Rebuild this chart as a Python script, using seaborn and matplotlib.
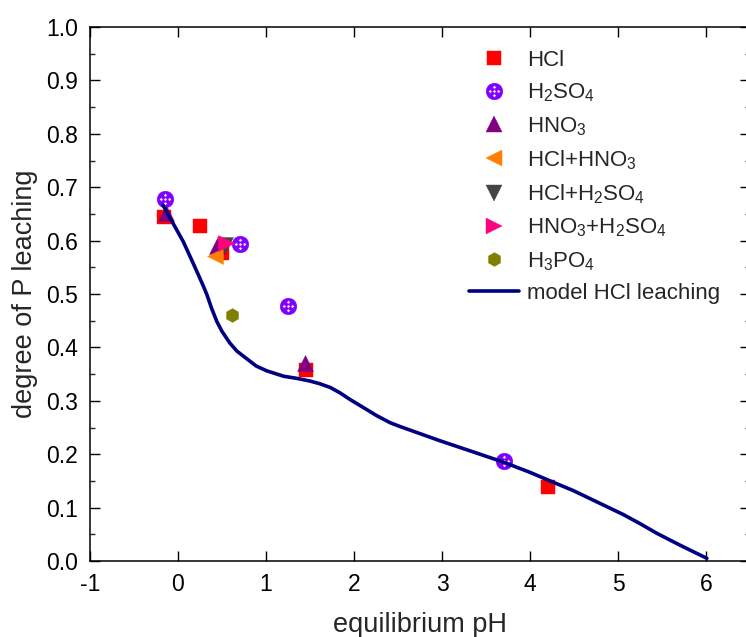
import numpy as np
import pandas as pd
import matplotlib
matplotlib.use("Agg")
import matplotlib.pyplot as plt
import seaborn as sns
from matplotlib.path import Path
from matplotlib.lines import Line2D
from matplotlib.ticker import MultipleLocator, FormatStrFormatter

# ---------------- data ----------------
series_order = ["HCl", "H2SO4", "HNO3", "HCl+HNO3", "HCl+H2SO4", "HNO3+H2SO4", "H3PO4"]
legend_labels = ["HCl", "H$_2$SO$_4$", "HNO$_3$", "HCl+HNO$_3$", "HCl+H$_2$SO$_4$",
                 "HNO$_3$+H$_2$SO$_4$", "H$_3$PO$_4$"]

hcl_pH = [-0.16, 0.25, 0.50, 1.46, 4.20]
hcl_P = [0.645, 0.627, 0.577, 0.358, 0.138]
h2so4_pH = [-0.15, 0.70, 1.25, 3.70]
h2so4_P = [0.678, 0.593, 0.478, 0.188]
hno3_pH = [-0.14, 0.44, 1.44]
hno3_P = [0.652, 0.590, 0.371]
hcl_hno3_pH = [0.42]
hcl_hno3_P = [0.571]
hcl_h2so4_pH = [0.53]
hcl_h2so4_P = [0.592]
hno3_h2so4_pH = [0.55]
hno3_h2so4_P = [0.596]
h3po4_pH = [0.61]
h3po4_P = [0.460]

model_pH = [-0.17, 0.06, 0.174, 0.25, 0.29, 0.33, 0.38, 0.44, 0.50, 0.59, 0.67, 0.74,
            0.89, 1.01, 1.20, 1.35, 1.50, 1.61, 1.73, 1.84, 1.95, 2.11, 2.26, 2.33,
            2.41, 2.52, 2.98, 3.36, 3.70, 4.00, 4.30, 4.49, 4.68, 4.87, 5.06, 5.25,
            5.44, 5.70, 6.01]
model_P = [0.666, 0.598, 0.557, 0.529, 0.514, 0.498, 0.474, 0.449, 0.430, 0.408, 0.393,
           0.384, 0.365, 0.356, 0.346, 0.342, 0.337, 0.332, 0.325, 0.315, 0.303, 0.287,
           0.272, 0.266, 0.259, 0.252, 0.225, 0.204, 0.185, 0.166, 0.145, 0.132, 0.117,
           0.102, 0.087, 0.070, 0.052, 0.030, 0.005]

x_ticks = [-1, 0, 1, 2, 3, 4, 5, 6]
y_ticks = [0.0, 0.1, 0.2, 0.3, 0.4, 0.5, 0.6, 0.7, 0.8, 0.9, 1.0]

# ---------------- styles ----------------
colors = {"HCl": "#ff0000", "H2SO4": "#8000ff", "HNO3": "#800080", "HCl+HNO3": "#ff8000",
          "HCl+H2SO4": "#454545", "HNO3+H2SO4": "#ff0080", "H3PO4": "#808000"}

def hatched_circle():
    outer = Path.unit_circle()
    holes = []
    r = 0.22
    for cx, cy in [(0, 0), (0.5, 0), (-0.5, 0), (0, 0.5), (0, -0.5)]:
        v = [(cx, cy + r), (cx + r, cy), (cx, cy - r), (cx - r, cy), (cx, cy + r)]
        holes.append(Path(v, [Path.MOVETO, Path.LINETO, Path.LINETO, Path.LINETO, Path.CLOSEPOLY]))
    return Path.make_compound_path(outer, *holes)

hatch_marker = hatched_circle()
markers = {"HCl": "s", "H2SO4": hatch_marker, "HNO3": "^", "HCl+HNO3": "<",
           "HCl+H2SO4": "v", "HNO3+H2SO4": ">", "H3PO4": "h"}
sizes = {"HCl": 10.5, "H2SO4": 12, "HNO3": 11.5, "HCl+HNO3": 11.5,
         "HCl+H2SO4": 11.5, "HNO3+H2SO4": 11.5, "H3PO4": 10}

rows = []
for name, xs, ys in [("HCl", hcl_pH, hcl_P), ("H2SO4", h2so4_pH, h2so4_P),
                     ("HNO3", hno3_pH, hno3_P), ("HCl+HNO3", hcl_hno3_pH, hcl_hno3_P),
                     ("HCl+H2SO4", hcl_h2so4_pH, hcl_h2so4_P),
                     ("HNO3+H2SO4", hno3_h2so4_pH, hno3_h2so4_P),
                     ("H3PO4", h3po4_pH, h3po4_P)]:
    for x, y in zip(xs, ys):
        rows.append({"pH": x, "P": y, "acid": name})
df = pd.DataFrame(rows)
model_df = pd.DataFrame({"pH": model_pH, "P": model_P})

sns.set_style("ticks")
plt.rcParams["font.family"] = ["Liberation Sans", "DejaVu Sans"]
plt.rcParams["mathtext.fontset"] = "custom"
plt.rcParams["mathtext.rm"] = "Liberation Sans"
plt.rcParams["mathtext.it"] = "Liberation Sans:italic"
plt.rcParams["mathtext.bf"] = "Liberation Sans:bold"

fig = plt.figure(figsize=(7.46, 6.37), dpi=100)
W, H = 746, 637
ax = fig.add_axes([90 / W, 76 / H, 660 / W, 534 / H])

for name in series_order:
    sub = df[df["acid"] == name]
    sns.scatterplot(data=sub, x="pH", y="P", ax=ax, marker=markers[name],
                    color=colors[name], s=sizes[name] ** 2, edgecolor=colors[name],
                    linewidth=0.3, legend=False, zorder=2)

sns.lineplot(data=model_df, x="pH", y="P", ax=ax, sort=False, color="#000080",
             linewidth=2.6, zorder=3, legend=False)

ax.set_xlim(-1, 6.5)
ax.set_ylim(0, 1.0)
ax.set_xticks(x_ticks)
ax.set_xticklabels([str(t) for t in x_ticks])
ax.set_yticks(y_ticks)
ax.yaxis.set_major_formatter(FormatStrFormatter("%.1f"))
ax.yaxis.set_minor_locator(MultipleLocator(0.05))
ax.tick_params(axis="both", which="major", direction="in", top=True, right=True,
               length=7.2, width=1.0, labelsize=16.5, pad=8.5, colors="black")
ax.tick_params(axis="y", which="minor", direction="in", left=True, right=True,
               length=3.6, width=1.0)
for sp in ax.spines.values():
    sp.set_linewidth(1.1)
    sp.set_color("black")

ax.set_xlabel("equilibrium pH", fontsize=19.5, labelpad=12)
ax.set_ylabel("degree of P leaching", fontsize=19.5, labelpad=6)

handles = []
for name in series_order:
    handles.append(Line2D([], [], linestyle="", marker=markers[name], color=colors[name],
                          markeredgecolor=colors[name], markeredgewidth=0.3,
                          markersize=sizes[name]))
handles.append(Line2D([], [], color="#000080", linewidth=2.6))
labels = legend_labels + ["model HCl leaching"]
ax.legend(handles, labels, loc="upper left", bbox_to_anchor=(469 / W, 1 - 50 / H),
          bbox_transform=fig.transFigure, frameon=False, fontsize=16, borderpad=0,
          borderaxespad=0, handlelength=2.25, handletextpad=0.35, labelspacing=0.48,
          numpoints=1)

fig.savefig("out.png", dpi=100)
